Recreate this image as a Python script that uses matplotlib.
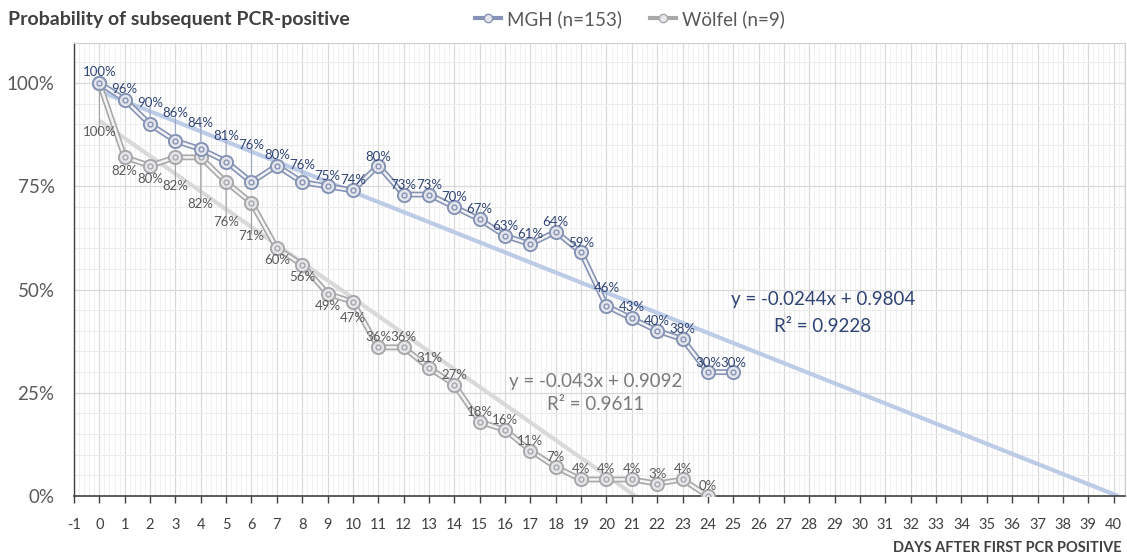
import matplotlib
matplotlib.use("Agg")
import matplotlib.pyplot as plt
import numpy as np
from matplotlib.ticker import MultipleLocator, FuncFormatter
from matplotlib.lines import Line2D

plt.rcParams['font.family'] = ['Lato', 'DejaVu Sans']
plt.rcParams['axes.unicode_minus'] = False

# ---- data ----
mgh_days = list(range(0, 26))
mgh_vals = [100, 96, 90, 86, 84, 81, 76, 80, 76, 75, 74, 80, 73, 73, 70, 67,
            63, 61, 64, 59, 46, 43, 40, 38, 30, 30]
wolfel_days = list(range(0, 25))
wolfel_vals = [100, 82, 80, 82, 82, 76, 71, 60, 56, 49, 47, 36, 36, 31, 27, 18,
               16, 11, 7, 4, 4, 4, 3, 4, 0]
mgh_slope, mgh_icpt, mgh_r2 = -0.0244, 0.9804, 0.9228
wol_slope, wol_icpt, wol_r2 = -0.043, 0.9092, 0.9611
x_ticks = list(range(-1, 41))
y_ticks = [0, 0.25, 0.5, 0.75, 1.0]
title = "Probability of subsequent PCR-positive"
xlabel = "DAYS AFTER FIRST PCR POSITIVE"
mgh_name = "MGH (n=153)"
wol_name = "Wölfel (n=9)"

# label offsets in pixels (positive = above)
mgh_off = [17, 17, 27, 34, 32, 32, 43, 17, 23, 16, 16, 15, 16, 16, 16, 16, 16, 16,
           16, 15, 24, 17, 16, 16, 15, 15]
wol_off = [-55, -20, -19, -35, -53, -46, -39, -18, -18, -18, -22] + [16] * 14

# ---- colours ----
NAVY = "#2f4374"
MGH_EDGE = "#8593b5"
MGH_TREND = "#bccbe6"
GRAY_TXT = "#595959"
WOL_EDGE = "#a8a8a8"
WOL_TREND = "#d9d9d9"

fig = plt.figure(figsize=(11.27, 5.6), dpi=100)
ax = fig.add_axes([74 / 1127, 64 / 560, (1125 - 74) / 1127, (496 - 43) / 560])
ax.set_xlim(-1, 40.45)
ax.set_ylim(0, 1.097)

# grid
ax.xaxis.set_major_locator(MultipleLocator(1))
ax.xaxis.set_minor_locator(MultipleLocator(0.2))
ax.yaxis.set_major_locator(MultipleLocator(0.25))
ax.yaxis.set_minor_locator(MultipleLocator(0.05))
ax.grid(which='major', axis='x', color='#d9d9d9', lw=0.9, zorder=0)
ax.grid(which='minor', axis='x', color='#f0f0f0', lw=0.7, zorder=0)
ax.grid(which='major', axis='y', color='#d9d9d9', lw=0.9, zorder=0)
ax.grid(which='minor', axis='y', color='#ececec', lw=0.7, zorder=0)
ax.set_axisbelow(True)

# trendlines
tx = np.array([0, 40.18])
ax.plot(tx, mgh_slope * tx + mgh_icpt, color=MGH_TREND, lw=3, zorder=2, solid_capstyle='butt')
tw = np.array([0, -wol_icpt / wol_slope])
ax.plot(tw, wol_slope * tw + wol_icpt, color=WOL_TREND, lw=3, zorder=2, solid_capstyle='butt')

def draw_series(days, vals, edge, z):
    y = np.array(vals) / 100.0
    ax.plot(days, y, color=edge, lw=4.2, zorder=z, solid_joinstyle='round')
    ax.plot(days, y, color='#f4f4f6', lw=1.8, zorder=z + 0.1, solid_joinstyle='round')
    ax.plot(days, y, ls='none', marker='o', ms=9.5, mfc='#e4e6ec', mec=edge, mew=1.4, zorder=z + 0.2)
    ax.plot(days, y, ls='none', marker='o', ms=3.5, mfc='none', mec=edge, mew=1.0, zorder=z + 0.3)

draw_series(wolfel_days, wolfel_vals, WOL_EDGE, 3)
draw_series(mgh_days, mgh_vals, MGH_EDGE, 4)

px2pt = 72 / 100.0

def labels(days, vals, offs, color, leader_color):
    for d, v, o in zip(days, vals, offs):
        y = v / 100.0
        dy = o - 6 if o > 0 else o + 6
        ax.annotate(f"{v}%", xy=(d, y), xytext=(0, dy * px2pt), textcoords='offset points',
                    ha='center', va='center', fontsize=9.5, color=color, zorder=6)
        if abs(o) > 22:
            sgn = 1 if o > 0 else -1
            ax.annotate("", xy=(d, y), xytext=(0, sgn * (abs(o) - 8) * px2pt),
                        textcoords='offset points',
                        arrowprops=dict(arrowstyle='-', color=leader_color, lw=0.8,
                                        shrinkA=0, shrinkB=4), zorder=5)

labels(mgh_days, mgh_vals, mgh_off, NAVY, '#9aa5c0')
labels(wolfel_days, wolfel_vals, wol_off, GRAY_TXT, '#a0a0a0')

# equations
fig.text(823 / 1127, 1 - 300 / 560, f"y = {mgh_slope}x + {mgh_icpt}", ha='center', va='center',
         fontsize=13.5, color=NAVY)
fig.text(823 / 1127, 1 - 326 / 560, f"R² = {mgh_r2}", ha='center', va='center',
         fontsize=13.5, color=NAVY)
fig.text(596 / 1127, 1 - 381 / 560, f"y = {wol_slope}x + {wol_icpt}", ha='center', va='center',
         fontsize=13.5, color='#7a7a7a')
fig.text(596 / 1127, 1 - 405 / 560, f"R² = {wol_r2}", ha='center', va='center',
         fontsize=13.5, color='#7a7a7a')

# axes styling
ax.set_xticks(x_ticks)
ax.set_yticks(y_ticks)
ax.yaxis.set_major_formatter(FuncFormatter(lambda v, p: f"{int(round(v * 100))}%"))
ax.tick_params(axis='x', which='major', direction='out', length=5, width=1, color='#404040',
               labelsize=10.5, labelcolor='#404040', pad=11)
ax.tick_params(axis='x', which='minor', length=0)
ax.tick_params(axis='y', which='both', length=0, labelsize=13.5, labelcolor=GRAY_TXT, pad=14)
for s in ['top', 'right']:
    ax.spines[s].set_color('#d0d0d0')
    ax.spines[s].set_linewidth(0.8)
ax.spines['left'].set_color('#404040')
ax.spines['left'].set_linewidth(1.0)
ax.spines['bottom'].set_color('#404040')
ax.spines['bottom'].set_linewidth(1.2)

# title / xlabel
fig.text(8 / 1127, 1 - 19 / 560, title, ha='left', va='center', fontsize=14,
         fontweight='bold', color='#404040')
fig.text(1122 / 1127, 1 - 548 / 560, xlabel, ha='right', va='center', fontsize=10.5,
         fontweight='bold', color='#404040')

# legend
def handle(edge):
    return Line2D([0], [0], color=edge, lw=3, marker='o', ms=6, mfc='#e4e6ec', mec=edge, mew=1)
fig.legend([handle(MGH_EDGE), handle(WOL_EDGE)], [mgh_name, wol_name],
           loc='center left', bbox_to_anchor=(458 / 1127, 1 - 19 / 560), ncol=2,
           frameon=False, fontsize=13.5, handlelength=1.4, handletextpad=0.3,
           columnspacing=1.5, labelcolor=GRAY_TXT)

fig.savefig("out.png", dpi=100)
